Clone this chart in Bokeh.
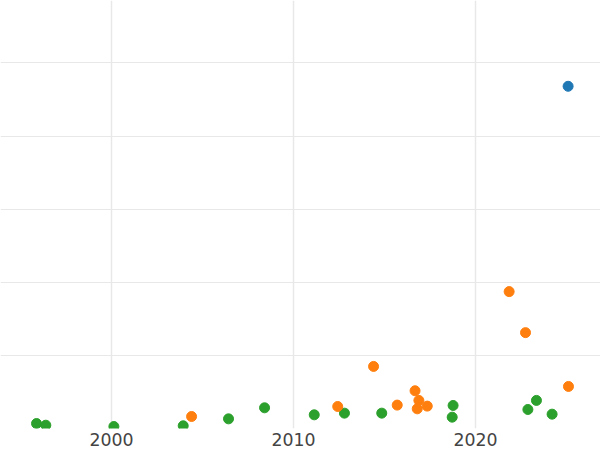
from bokeh.plotting import figure
from bokeh.models import ColumnDataSource, Range1d, FixedTicker
from bokeh.embed import file_html
from bokeh.resources import INLINE

# data (year, value in grid units)
blue_year = [2025.09]
blue_value = [4.68]

orange_year = [2004.40, 2012.43, 2014.40, 2015.70, 2016.68, 2016.89, 2016.80,
               2017.35, 2021.85, 2022.75, 2025.11]
orange_value = [0.164, 0.301, 0.849, 0.320, 0.516, 0.384, 0.269,
                0.306, 1.872, 1.311, 0.575]

green_year = [1995.88, 1996.39, 2000.13, 2003.94, 2006.43, 2008.41, 2011.14,
              2012.80, 2014.85, 2018.77, 2018.72, 2022.88, 2023.35, 2024.21]
green_value = [0.068, 0.045, 0.027, 0.037, 0.132, 0.283, 0.187,
               0.210, 0.210, 0.315, 0.155, 0.260, 0.384, 0.196]

x_ticks = [2000, 2010, 2020]
y_ticks = [0, 1, 2, 3, 4, 5]

p = figure(width=600, height=448, output_backend="svg", toolbar_location=None,
           x_range=Range1d(1993.90, 2026.87), y_range=Range1d(0, 5.853),
           min_border_left=0, min_border_right=0, min_border_top=0,
           min_border_bottom=0)
p.outline_line_color = None
p.background_fill_color = "white"

for xs, ys, c in [(green_year, green_value, "#2ca02c"),
                  (orange_year, orange_value, "#ff7f0e"),
                  (blue_year, blue_value, "#1f77b4")]:
    src = ColumnDataSource(dict(x=xs, y=ys))
    p.scatter("x", "y", source=src, size=10, fill_color=c, line_color=c)

p.xaxis.ticker = FixedTicker(ticks=x_ticks)
p.yaxis.ticker = FixedTicker(ticks=y_ticks)
p.yaxis.visible = False
p.xaxis.axis_line_color = None
p.xaxis.major_tick_line_color = None
p.xaxis.minor_tick_line_color = None
p.xaxis.major_tick_out = 0
p.xaxis.major_label_standoff = 4
p.xaxis.major_label_text_font = "DejaVu Sans"
p.xaxis.major_label_text_font_size = "13pt"
p.xaxis.major_label_text_color = "#444444"
p.xgrid.grid_line_color = "#e8e8e8"
p.ygrid.grid_line_color = "#e8e8e8"
p.xgrid.grid_line_width = 1.5
p.ygrid.grid_line_width = 1.2

open("out.html", "w").write(file_html(p, INLINE))
